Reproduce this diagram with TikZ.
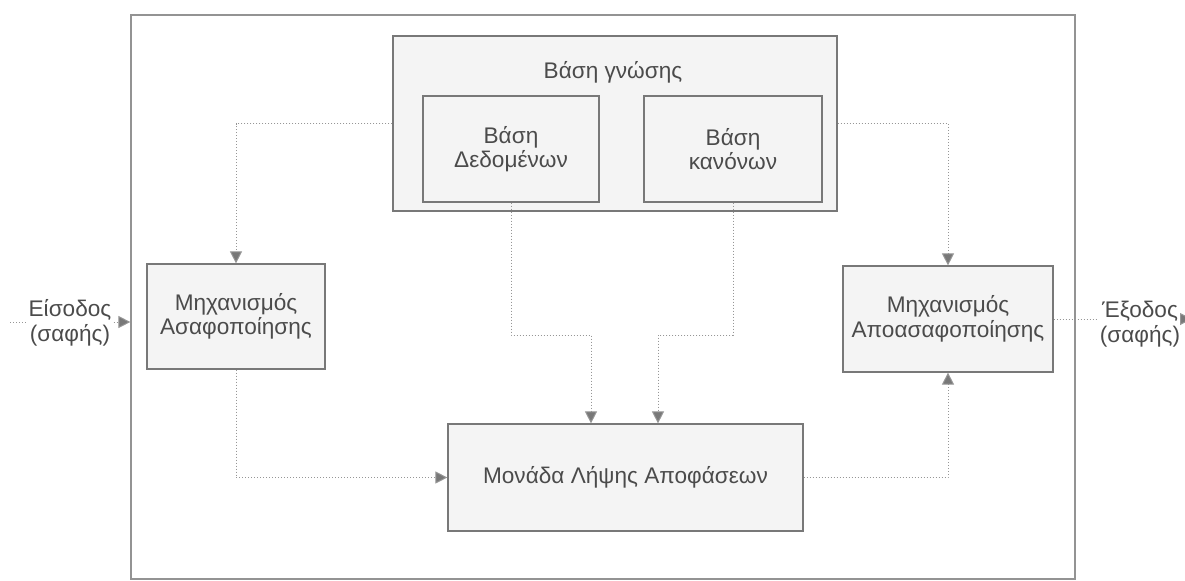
\documentclass[tikz,border=0pt]{standalone}
\usepackage{fontspec}
\setmainfont{Liberation Sans}
\usepackage{tikz}
\usetikzlibrary{arrows.meta, positioning, calc}

\definecolor{boxline}{RGB}{120,120,120}
\definecolor{boxfill}{RGB}{244,244,244}
\definecolor{wire}{RGB}{150,150,150}
\definecolor{txt}{RGB}{75,75,75}

\tikzset{
  block/.style={draw=boxline, fill=boxfill, line width=0.6pt, align=center, text=txt, inner sep=0pt},
  lbl/.style={align=center, text=txt, inner sep=1pt},
  wirel/.style={draw=wire, densely dotted, line width=0.5pt},
  arr/.style={wirel, -{Triangle[length=6pt,width=6pt,fill=boxline]}}
}

\begin{document}
\begin{tikzpicture}[x=0.5pt, y=-0.5pt, font=\fontsize{11.3}{12.2}\selectfont]
  \useasboundingbox (0,0) rectangle (1185,580);
  % Πλαίσιο
  \node[draw=boxline!80, line width=0.6pt, minimum width=472pt, minimum height=282pt] (frame) at (603,297) {};
  % Βάση γνώσης
  \node[block, minimum width=222pt, minimum height=87.5pt] (kb) at (615,123.5) {};
  \node[lbl] (kbtitle) at (613,72) {Βάση γνώσης};
  \node[block, minimum width=88pt, minimum height=53pt] (db) at (511,149) {Βάση\\Δεδομένων};
  \node[block, minimum width=89pt, minimum height=53pt] (rb) at (733,149) {Βάση\\κανόνων};
  % Μηχανισμοί
  \node[block, minimum width=89pt, minimum height=52.5pt] (fuz) at (236,316.5) {Μηχανισμός\\Ασαφοποίησης};
  \node[block, minimum width=105pt, minimum height=53pt] (defuz) at (948,319) {Μηχανισμός\\Αποασαφοποίησης};
  \node[block, minimum width=177.5pt, minimum height=53.5pt] (dec) at (625.5,477.5) {Μονάδα Λήψης Αποφάσεων};
  % Είσοδος / Έξοδος
  \node[lbl] (intext) at (70,323) {Είσοδος\\(σαφής)};
  \node[lbl] (outtext) at (1140,324) {Έξοδος\\(σαφής)};
  \coordinate (inl) at (10,322);
  \coordinate (outend) at (1192,319);
  \coordinate (dbturn) at (591,335);
  \coordinate (rbturn) at (658,335);
  % Συνδέσεις
  \draw[wirel] (inl) -- (inl -| intext.west);
  \draw[arr] (intext.east |- inl) -- (inl -| frame.west);
  \draw[arr] (kb.west) -| (fuz.north);
  \draw[arr] (kb.east) -| (defuz.north);
  \draw[arr] (fuz.south) |- (dec.west);
  \draw[arr] (dec.east) -| (defuz.south);
  \draw[arr] (db.south) |- (dbturn) -- (dbturn |- dec.north);
  \draw[arr] (rb.south) |- (rbturn) -- (rbturn |- dec.north);
  \draw[wirel] (defuz.east) -- (defuz.east -| outtext.west);
  \draw[arr] (defuz.east -| outtext.east) -- (outend);
\end{tikzpicture}
\end{document}
